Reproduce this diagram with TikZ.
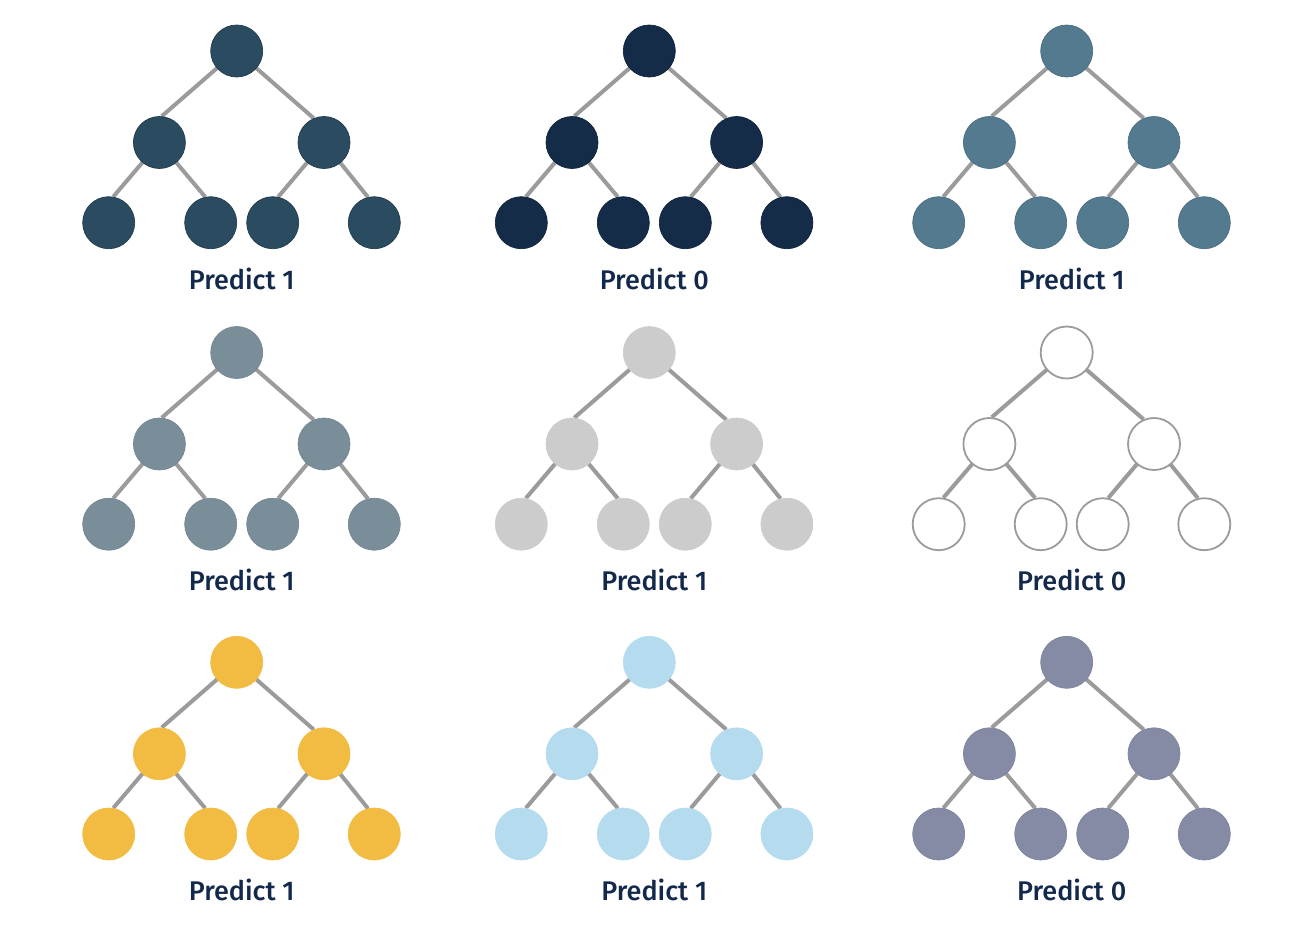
\documentclass[tikz,border=0pt]{standalone}
\usepackage{fontspec}
\setmainfont{Fira Sans}[BoldFont={Fira Sans Medium}]
\usetikzlibrary{positioning}
\usetikzlibrary{backgrounds}
\definecolor{inkA}{HTML}{2B4B60}
\definecolor{inkB}{HTML}{142C48}
\definecolor{inkC}{HTML}{537A8F}
\definecolor{inkD}{HTML}{7A8E9A}
\definecolor{inkE}{HTML}{CCCCCC}
\definecolor{inkF}{HTML}{FFFFFF}
\definecolor{inkG}{HTML}{F2BB41}
\definecolor{inkH}{HTML}{B5DBEF}
\definecolor{inkI}{HTML}{858BA5}
\definecolor{branchgray}{HTML}{9B9B9B}
\definecolor{labelnavy}{HTML}{13294B}

\begin{document}
\begin{tikzpicture}[x=1pt,y=-1pt,
    vertex/.style={circle,minimum size=52pt,inner sep=0pt},
    branch/.style={draw=branchgray,line width=4pt},
    verdict/.style={font=\bfseries\fontsize{27}{30}\selectfont,
                    text=labelnavy,anchor=base}]
  \useasboundingbox (0,0) rectangle (1300,930);
  \foreach \t/\cx/\cy/\fc/\dc/\lw/\cls in {
      a/236.7/51/inkA/inkA!80!black/0.7/1,
      b/649.3/51/inkB/inkB!80!black/0.7/0,
      c/1066.7/51/inkC/inkC!90!black/0.7/1,
      d/236.7/352.5/inkD/inkD!95!black/0.7/1,
      e/649.3/352.5/inkE/inkE/0.7/1,
      f/1066.7/352.5/inkF/branchgray/1.8/0,
      g/236.7/662.3/inkG/inkG/0.7/1,
      h/649.3/662.3/inkH/inkH/0.7/1,
      i/1066.7/662.3/inkI/inkI!95!black/0.7/0}
  {
    \begin{scope}[shift={(\cx,\cy)},
                  every node/.append style={fill=\fc,draw=\dc,line width=\lw pt}]
      % root, inner split, leaves
      \node[vertex] (\t-root) at (0,0) {};
      \node[vertex] (\t-l) at (-77.3,91.5) {};
      \node[vertex] (\t-r) at (87.3,91.5) {};
      \node[vertex] (\t-ll) at (-128,171.7) {};
      \node[vertex] (\t-lr) at (-26,171.7) {};
      \node[vertex] (\t-rl) at (36,171.7) {};
      \node[vertex] (\t-rr) at (137.6,171.7) {};
    \end{scope}
    \node[verdict] (\t-out) at (\cx+5,\cy+238) {Predict \cls};
    \begin{pgfonlayer}{background}
      \path[branch]
        (\t-root.center) edge (\t-l.85)
                         edge (\t-r.113)
        (\t-l.center) edge (\t-ll.80)
                      edge (\t-lr.102)
        (\t-r.center) edge (\t-rl.78)
                      edge (\t-rr.104);
    \end{pgfonlayer}
  }
\end{tikzpicture}
\end{document}
